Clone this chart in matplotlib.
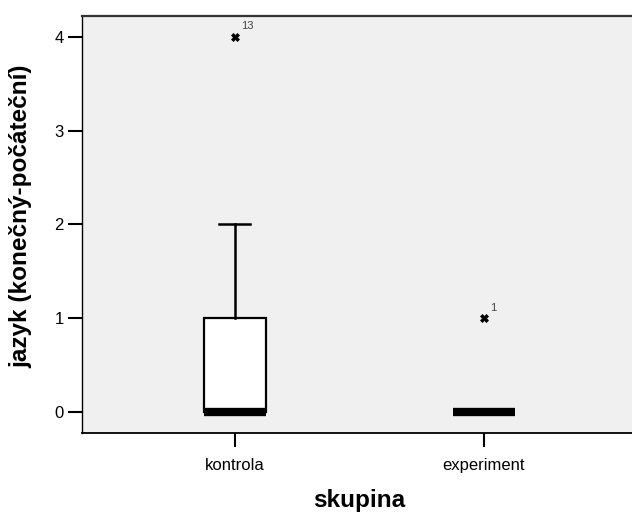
import matplotlib
matplotlib.use("Agg")
import matplotlib.pyplot as plt

plt.rcParams['font.family'] = ['Liberation Sans', 'DejaVu Sans']

categories = ["kontrola", "experiment"]
q1 = [0, 0]
medians = [0, 0]
q3 = [1, 0]
whisker_low = [0, 0]
whisker_high = [2, 0]
outliers = [[4], [1]]
outlier_ids = [["13"], ["1"]]
yticks = [0, 1, 2, 3, 4]

W, H = 632, 514
fig = plt.figure(figsize=(W / 100, H / 100), dpi=100)
ax = fig.add_axes([0.1297, 0.1576, 0.8703 + 0.01, 0.8113])
ax.set_facecolor('#f0f0f0')

positions = list(range(1, len(categories) + 1))
stats = []
for i, c in enumerate(categories):
    stats.append(dict(label=c, q1=q1[i], med=medians[i], q3=q3[i],
                      whislo=whisker_low[i], whishi=whisker_high[i], fliers=[]))

ax.bxp(stats, positions=positions, widths=0.25, patch_artist=True,
       showfliers=False,
       boxprops=dict(facecolor='white', edgecolor='black', linewidth=1.6),
       medianprops=dict(color='black', linewidth=6, solid_capstyle='butt'),
       whiskerprops=dict(color='black', linewidth=1.8),
       capprops=dict(color='black', linewidth=1.8),
       capwidths=0.125)

for i, (vals, ids) in enumerate(zip(outliers, outlier_ids)):
    for v, lab in zip(vals, ids):
        ax.plot(positions[i], v, marker='X', color='black', markersize=5.5,
                markeredgewidth=0.5, linestyle='none')
        ax.annotate(lab, (positions[i], v), xytext=(4.5, 4), textcoords='offset points',
                    fontsize=8, color='#444444', ha='left', va='bottom')

ax.set_xlim(0.386, 2.62)
ax.set_ylim(-0.224, 4.224)
ax.set_yticks(yticks)
ax.set_yticklabels([str(t) for t in yticks], fontsize=12)
ax.set_xticks(positions)
ax.set_xticklabels(categories, fontsize=12)
ax.tick_params(axis='y', direction='out', length=10, width=1.5, color='black', pad=3)
ax.tick_params(axis='x', direction='out', length=10, width=1.5, color='black', pad=8)

for s in ['left', 'bottom', 'top', 'right']:
    ax.spines[s].set_color('black')
ax.spines['left'].set_linewidth(1.0)
ax.spines['bottom'].set_linewidth(1.3)
ax.spines['top'].set_linewidth(1.6)
ax.spines['top'].set_color('#333333')

fig.text(359.5 / W, 1 - 507 / H, 'skupina', fontsize=17.5, fontweight='bold',
         ha='center', va='baseline')
fig.text(21 / W, 1 - 216.5 / H, 'jazyk (konečný-počáteční)', fontsize=17.5,
         fontweight='bold', rotation=90, ha='center', va='center')

fig.savefig('out.png', dpi=100)
